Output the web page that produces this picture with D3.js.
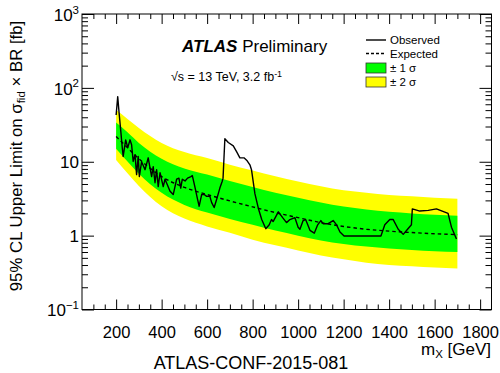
<!DOCTYPE html>
<html>
<head>
<meta charset="utf-8">
<script src="https://cdn.jsdelivr.net/npm/d3@7"></script>
<style>
  body { margin: 0; background: #fff; }
  svg { font-family: "Liberation Sans", Arial, sans-serif; }
</style>
</head>
<body>
<svg id="chart" width="500" height="373"></svg>
<script>
// expected limit and bands (fb) on a coarse mass grid
const bandMass = [200, 250, 300, 400, 500, 600, 700, 800, 900, 1000, 1100, 1200, 1300, 1400, 1500, 1600, 1700];
const expected = [22, 15.5, 11, 6.3, 4.5, 3.6, 2.95, 2.45, 2.05, 1.75, 1.5, 1.33, 1.22, 1.15, 1.1, 1.06, 1.03];
const plus1 = [34, 25, 18, 11, 8.1, 6.7, 5.5, 4.55, 3.8, 3.25, 2.8, 2.47, 2.26, 2.1, 2.0, 1.91, 1.86];
const minus1 = [15, 10.1, 6.9, 3.8, 2.6, 2.05, 1.68, 1.4, 1.17, 1.0, 0.86, 0.77, 0.71, 0.67, 0.64, 0.615, 0.6];
const plus2 = [50, 38, 28.6, 18, 13.5, 11.2, 9.1, 7.6, 6.35, 5.4, 4.65, 4.1, 3.8, 3.55, 3.4, 3.26, 3.16];
const minus2 = [10.6, 7, 4.7, 2.5, 1.7, 1.33, 1.09, 0.88, 0.74, 0.63, 0.54, 0.48, 0.43, 0.4, 0.385, 0.37, 0.36];

// observed limit
const obsMass = [200, 207, 213, 221, 227, 231, 242, 251, 261, 268, 275, 283, 290, 297, 302, 312, 327, 341, 356, 363,
  371, 378, 385, 393, 407, 415, 437, 451, 466, 476, 484, 491, 503, 514, 529, 535, 546, 558, 565, 576,
  587, 598, 612, 620, 631, 642, 656, 666, 670, 678, 693, 715, 730, 744, 762, 776, 788, 795, 810, 825,
  840, 858, 873, 883, 890, 913, 932, 949, 964, 986, 1000, 1008, 1022, 1033, 1052, 1071, 1086, 1100, 1110, 1132,
  1154, 1169, 1184, 1202, 1364, 1381, 1403, 1418, 1440, 1462, 1481, 1498, 1502, 1535, 1572, 1608, 1659, 1674, 1696];
const observed = [43, 76, 46, 25, 15.5, 11.8, 19.8, 15.5, 19.8, 17, 10.1, 12.5, 6.7, 11.8, 6.3, 10, 7.8, 11.3, 6.3, 8.6,
  5.2, 7.8, 4.6, 7.1, 4.6, 5.8, 4.0, 3.6, 5.8, 6.0, 4.4, 5.8, 5.5, 6.0, 6.3, 6.5, 4.6, 3.1, 2.5, 3.6,
  3.6, 3.4, 3.4, 2.8, 2.4, 3.1, 4.4, 5.4, 6.0, 20.5, 18.2, 16.4, 13.6, 11.3, 11.3, 10.3, 9.1, 7.8, 3.7, 2.35,
  1.65, 1.24, 1.4, 1.65, 1.55, 2.1, 1.75, 1.5, 1.65, 1.75, 1.3, 1.22, 1.6, 1.65, 1.18, 1.08, 1.4, 1.6, 1.45, 1.45,
  1.6, 1.4, 1.12, 0.99, 0.99, 1.4, 1.65, 1.65, 1.22, 1.04, 1.22, 1.4, 2.3, 2.15, 2.2, 2.3, 2.0, 1.3, 0.9];

const xMajor = [200, 400, 600, 800, 1000, 1200, 1400, 1600, 1800];
const yMajor = [0.1, 1, 10, 100, 1000];
const legendLabels = ["Observed", "Expected", "± 1 σ", "± 2 σ"];

const svg = d3.select("#chart");
const margin = {top: 14, right: 8.5, bottom: 63.5, left: 82};
const W = 500, H = 373;

const x = d3.scaleLinear().domain([50, 1850]).range([margin.left, W - margin.right]);
const y = d3.scaleLog().domain([0.1, 1000]).range([H - margin.bottom, margin.top]);

const bands = bandMass.map((m, i) => ({m, exp: expected[i], p1: plus1[i], m1: minus1[i], p2: plus2[i], m2: minus2[i]}));

const area = (lo, hi) => d3.area()
  .x(d => x(d.m))
  .y0(d => y(d[lo]))
  .y1(d => y(d[hi]))
  .curve(d3.curveMonotoneX);

svg.append("path").datum(bands).attr("fill", "#ffff00").attr("d", area("m2", "p2"));
svg.append("path").datum(bands).attr("fill", "#00ff00").attr("d", area("m1", "p1"));

svg.append("path").datum(bands)
  .attr("fill", "none").attr("stroke", "#000").attr("stroke-width", 1.4)
  .attr("stroke-dasharray", "3.5,3")
  .attr("d", d3.line().x(d => x(d.m)).y(d => y(d.exp)).curve(d3.curveMonotoneX));

const obs = obsMass.map((m, i) => ({m, v: observed[i]}));
svg.append("path").datum(obs)
  .attr("fill", "none").attr("stroke", "#000").attr("stroke-width", 1.4)
  .attr("stroke-linejoin", "round")
  .attr("d", d3.line().x(d => x(d.m)).y(d => y(d.v)));

// axes, ROOT style: ticks inside, on all four sides
const xMinor = d3.range(100, 1850, 50).filter(v => v % 200 !== 0);
const yMinor = [];
for (let e = -1; e < 3; e++) for (let k = 2; k <= 9; k++) yMinor.push(k * Math.pow(10, e));

const y0 = H - margin.bottom, x1 = W - margin.right;

function strip(g) { g.select(".domain").remove(); }

svg.append("g").attr("transform", `translate(0,${y0})`)
  .call(d3.axisBottom(x).tickValues(xMinor).tickSize(-5).tickFormat("")).call(strip);
svg.append("g").attr("transform", `translate(0,${y0})`)
  .call(d3.axisBottom(x).tickValues(xMajor).tickSize(-10).tickPadding(17).tickFormat(d3.format("d")))
  .call(strip)
  .call(g => g.selectAll("text").attr("font-size", 16.5).attr("font-family", "Liberation Sans"));
svg.append("g").attr("transform", `translate(0,${margin.top})`)
  .call(d3.axisTop(x).tickValues(xMinor).tickSize(-5).tickFormat("")).call(strip);
svg.append("g").attr("transform", `translate(0,${margin.top})`)
  .call(d3.axisTop(x).tickValues(xMajor).tickSize(-10).tickFormat("")).call(strip);

svg.append("g").attr("transform", `translate(${margin.left},0)`)
  .call(d3.axisLeft(y).tickValues(yMinor).tickSize(-6).tickFormat("")).call(strip);
const yl = svg.append("g").attr("transform", `translate(${margin.left},0)`)
  .call(d3.axisLeft(y).tickValues(yMajor).tickSize(-12).tickPadding(-9).tickFormat(""))
  .call(strip);
svg.append("g").attr("transform", `translate(${x1},0)`)
  .call(d3.axisRight(y).tickValues(yMinor).tickSize(-6).tickFormat("")).call(strip);
svg.append("g").attr("transform", `translate(${x1},0)`)
  .call(d3.axisRight(y).tickValues(yMajor).tickSize(-12).tickFormat("")).call(strip);

// y tick labels with superscripts
yl.selectAll(".tick").each(function(d) {
  const e = Math.round(Math.log10(d));
  const t = d3.select(this).append("text")
    .attr("x", -3).attr("dy", "0.36em").attr("text-anchor", "end")
    .attr("font-size", 17).attr("fill", "#000");
  if (e === 0) t.text("1");
  else if (e === 1) t.text("10");
  else {
    t.append("tspan").text("10");
    t.append("tspan").attr("font-size", 11.5).attr("dy", "-0.62em").text(e < 0 ? "\u2212" + (-e) : e);
  }
});

svg.append("rect")
  .attr("x", margin.left).attr("y", margin.top)
  .attr("width", x1 - margin.left).attr("height", y0 - margin.top)
  .attr("fill", "none").attr("stroke", "#000").attr("stroke-width", 1);

// titles
const yt = svg.append("text")
  .attr("transform", `translate(22,156) rotate(-90)`)
  .attr("text-anchor", "middle").attr("font-size", 16.8);
yt.append("tspan").text("95% CL Upper Limit on \u03c3");
yt.append("tspan").attr("font-size", 11.5).attr("dy", "0.3em").text("fid");
yt.append("tspan").attr("dy", "-0.2em").text(" \u00d7 BR [fb]");

const xt = svg.append("text").attr("x", 491).attr("y", 355)
  .attr("text-anchor", "end").attr("font-size", 17);
xt.append("tspan").text("m");
xt.append("tspan").attr("font-size", 11.5).attr("dy", "0.3em").text("X");
xt.append("tspan").attr("dy", "-0.2em").text(" [GeV]");

svg.append("text").attr("x", 251).attr("y", 369)
  .attr("text-anchor", "middle").attr("font-size", 18)
  .text("ATLAS-CONF-2015-081");

const at = svg.append("text").attr("x", 182).attr("y", 52).attr("font-size", 17);
at.append("tspan").attr("font-weight", "bold").attr("font-style", "italic").text("ATLAS");
at.append("tspan").text(" Preliminary");

const en = svg.append("text").attr("x", 171).attr("y", 81).attr("font-size", 12.5);
en.append("tspan").text("\u221as = 13 TeV, 3.2 fb");
en.append("tspan").attr("font-size", 9).attr("dy", "-0.5em").text("-1");

// legend
const lg = svg.append("g").attr("font-size", 11.5);
const rowY = [40, 53.5, 68, 82];
lg.append("line").attr("x1", 366).attr("x2", 386).attr("y1", rowY[0]).attr("y2", rowY[0])
  .attr("stroke", "#000").attr("stroke-width", 1.4);
lg.append("line").attr("x1", 366).attr("x2", 386).attr("y1", rowY[1]).attr("y2", rowY[1])
  .attr("stroke", "#000").attr("stroke-width", 1.4).attr("stroke-dasharray", "3,2");
lg.append("rect").attr("x", 366).attr("y", rowY[2] - 5).attr("width", 20).attr("height", 10)
  .attr("fill", "#00ff00").attr("stroke", "#333").attr("stroke-width", 0.8);
lg.append("rect").attr("x", 366).attr("y", rowY[3] - 5).attr("width", 20).attr("height", 10)
  .attr("fill", "#ffff00").attr("stroke", "#333").attr("stroke-width", 0.8);
lg.selectAll("text.lab").data(legendLabels).join("text")
  .attr("class", "lab")
  .attr("x", 390).attr("y", (d, i) => rowY[i]).attr("dy", "0.36em")
  .text(d => d);
</script>
</body>
</html>
